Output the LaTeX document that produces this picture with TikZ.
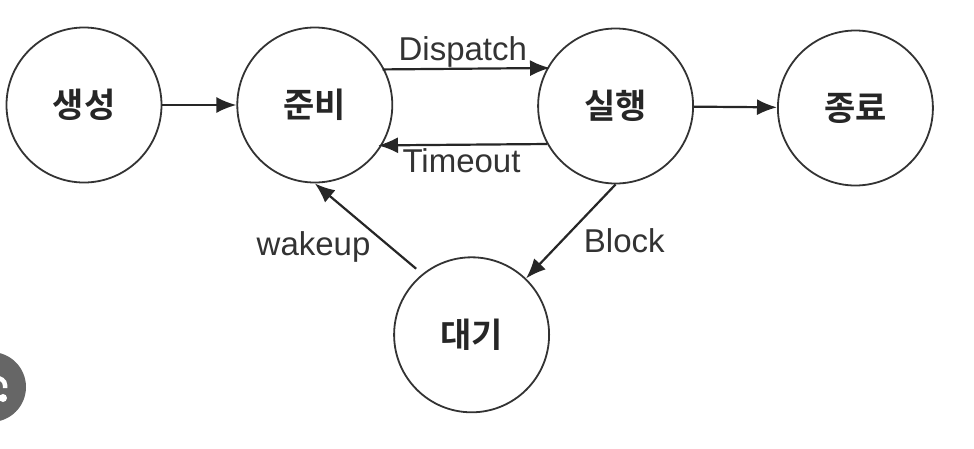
\documentclass[tikz,border=0pt]{standalone}
\usepackage{fontspec}
\setmainfont{Liberation Sans}
\newfontfamily\korean{Noto Sans CJK KR}[BoldFont={Noto Sans CJK KR Bold}]
\usetikzlibrary{arrows.meta,positioning}
\definecolor{inkgray}{gray}{0.2}
\definecolor{badgegray}{gray}{0.4}

\begin{document}
\begin{tikzpicture}[x=1pt, y=-1pt, >={Latex[length=20pt,width=16pt]},
    statenode/.style={draw=inkgray, circle, line width=1.8pt, minimum size=155pt, inner sep=0pt, font=\korean\bfseries\fontsize{34}{38}\selectfont, text=black!85},
    edgelabel/.style={text=inkgray, inner sep=0pt, font=\fontsize{33}{38}\selectfont},
    flow/.style={->, line width=2.2pt, draw=black!85}]
    \useasboundingbox (0,0) rectangle (974,448);
    \fill[white] (0,0) rectangle (974,448);
    \node[statenode] (new) at (84,105) {생성};
    \node[statenode, right=74pt of new] (ready) {준비};
    \node[statenode, right=144pt of ready, yshift=-1pt] (run) {실행};
    \node[statenode, right=83pt of run, yshift=-2pt] (done) {종료};
    \node[statenode, below=72pt of run, xshift=-144pt] (wait) {대기};
    \draw[flow] (new) -- (ready);
    \draw[flow, shorten <=-2pt, shorten >=-3pt] (ready.27) -- node[edgelabel, above=0pt, xshift=-3pt] (dispatch) {Dispatch} (run.151);
    \draw[flow, shorten >=-4pt] (run.209) -- node[edgelabel, below=3pt, xshift=-3pt] (timeout) {Timeout} (ready.-31);
    \draw[flow] (run) -- (done);
    \draw[flow] (run.south) -- node[edgelabel, right=12pt, yshift=-9pt] (block) {Block} (wait.46);
    \draw[flow, shorten <=8pt] (wait.129) -- node[edgelabel, left=0pt, xshift=3pt, yshift=-18pt] (wakeup) {wakeup} (ready.south);
    % corner badge
    \fill[badgegray] (-9,387) circle (35);
    \draw[white, line width=4.5pt] (-5,377.5) arc (-90:0:10 and 7.5) -- (5,388);
    \fill[white] (3,398) circle (4);
\end{tikzpicture}
\end{document}
